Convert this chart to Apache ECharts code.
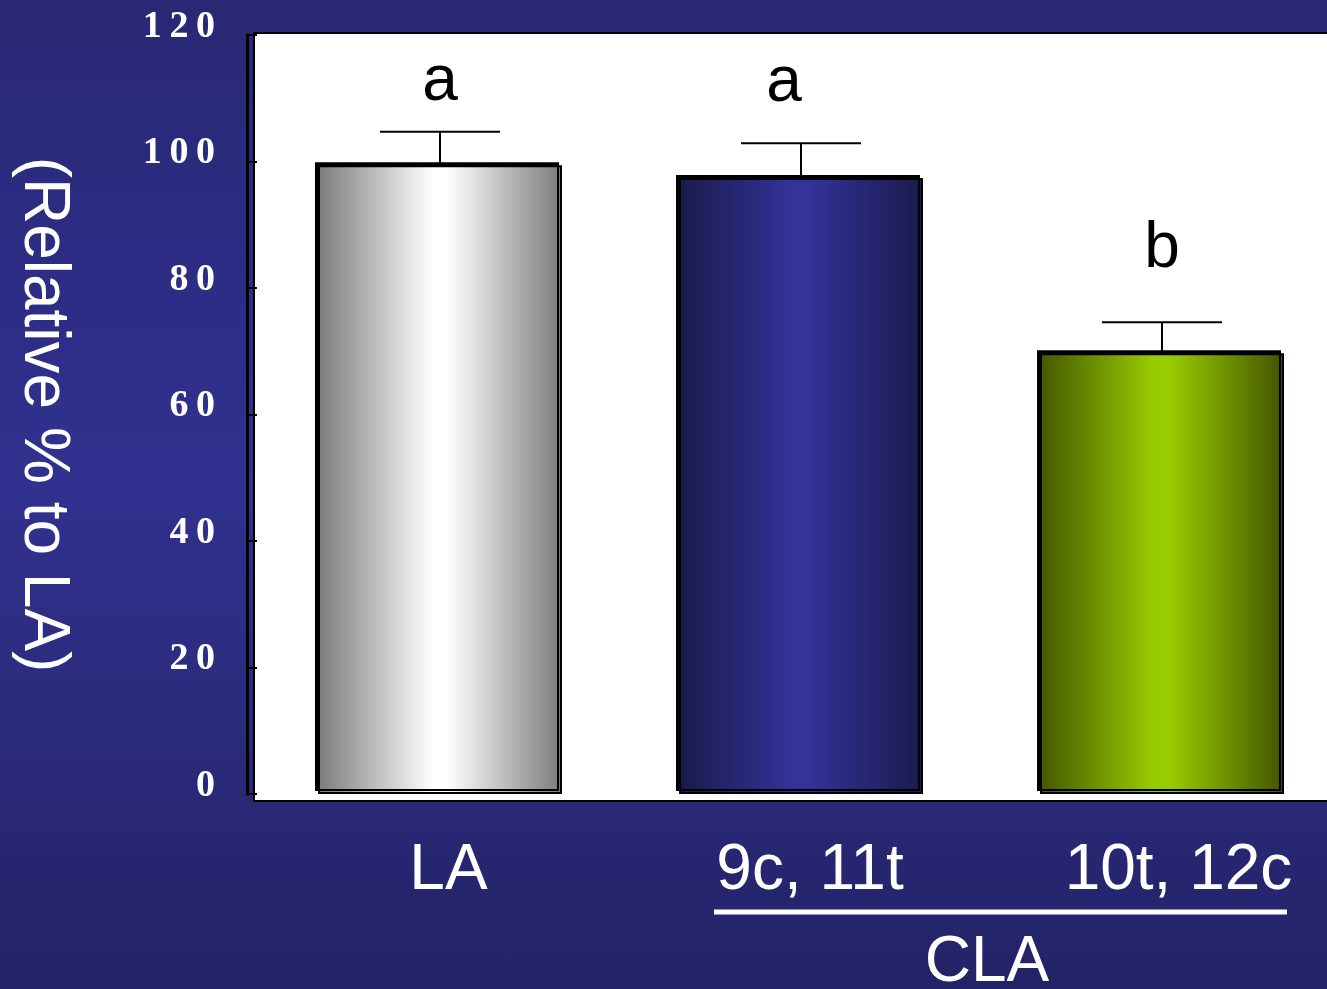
<!DOCTYPE html>
<html>
<head>
<meta charset="utf-8">
<title>Relative % to LA</title>
<script src="https://cdn.jsdelivr.net/npm/echarts@6/dist/echarts.min.js"></script>
<style>
  html, body { margin: 0; padding: 0; }
  body {
    width: 1327px; height: 989px; overflow: hidden;
    background: linear-gradient(to bottom, #282873 0%, #2e2e8a 35%, #31318f 50%, #2a2a7a 75%, #222366 100%);
  }
  /* the plot runs off the right edge, so the canvas is wider than the view */
  #chart { width: 1400px; height: 989px; }
</style>
</head>
<body>
<div id="chart"></div>
<script>
// Groups and measured values
const categories = ['LA', '9c, 11t', '10t, 12c'];
const meanValues = [99.4, 97.4, 69.7];
const semValues = [5.3, 5.5, 4.9];
const sigLetters = ['a', 'a', 'b'];
const groupLabel = 'CLA';
const yTitle = '(Relative % to LA)';

// Horizontal "cylinder" shading per bar
const barShades = [
  ['#7b7b7b', '#ffffff', '#7b7b7b'],
  ['#1a1a4c', '#333399', '#1a1a4c'],
  ['#455800', '#99cc00', '#435400']
];
// Letter placement relative to the error-bar cap (px)
const letterShift = [[0, 49], [-17, 60], [0, 73]];
// Extra left padding of the category labels (px)
const labelPad = [17, 18, 33];

function shade(c) {
  return {
    type: 'linear', x: 0, y: 0, x2: 1, y2: 0,
    colorStops: [
      { offset: 0, color: c[0] },
      { offset: 0.47, color: c[1] },
      { offset: 0.53, color: c[1] },
      { offset: 1, color: c[2] }
    ]
  };
}

const chart = echarts.init(document.getElementById('chart'), null, { renderer: 'canvas' });

const gridLeft = 259.5, gridWidth = 1083, gridTop = 35, gridBottomY = 794;

chart.setOption({
  backgroundColor: 'transparent',
  animation: false,
  grid: { left: gridLeft, width: gridWidth, top: gridTop, bottom: 989 - gridBottomY, containLabel: false },
  graphic: [
    {
      type: 'rect', z: -10, silent: true,
      shape: { x: 254, y: 33, width: 1200, height: 768 },
      style: { fill: '#ffffff', stroke: '#000000', lineWidth: 2 }
    },
    {
      type: 'line', z: 5, silent: true,
      shape: { x1: 714, y1: 912, x2: 1287, y2: 912 },
      style: { stroke: '#ffffff', lineWidth: 5 }
    },
    {
      type: 'text', z: 5, silent: true,
      x: 987, y: 931,
      style: {
        text: groupLabel, fill: '#ffffff', fontSize: 64,
        fontFamily: 'Liberation Sans, Arial, sans-serif', align: 'center', verticalAlign: 'top'
      }
    }
  ],
  xAxis: {
    type: 'category',
    data: categories.map((c, i) => ({ value: c, textStyle: { padding: [0, 0, 0, labelPad[i]] } })),
    axisLine: { show: false },
    axisTick: { show: false },
    splitLine: { show: false },
    axisLabel: {
      interval: 0, color: '#ffffff', fontSize: 64,
      fontFamily: 'Liberation Sans, Arial, sans-serif', margin: 45
    }
  },
  yAxis: {
    type: 'value', min: 0, max: 120, interval: 20,
    offset: gridLeft - 247,
    name: yTitle,
    nameLocation: 'middle',
    nameRotate: -90,
    nameGap: 172,
    nameTextStyle: { color: '#ffffff', fontSize: 64, fontFamily: 'Liberation Sans, Arial, sans-serif' },
    axisLine: { show: true, lineStyle: { color: '#000000', width: 3 } },
    axisTick: { show: true, inside: true, length: 10, lineStyle: { color: '#000000', width: 2 } },
    splitLine: { show: false },
    axisLabel: {
      color: '#ffffff', fontSize: 38, fontWeight: 'bold',
      fontFamily: 'Liberation Serif, Times New Roman, serif', margin: 32,
      verticalAlign: 'bottom', lineHeight: 16,
      formatter: v => String(v).split('').join('\u2009')
    }
  },
  series: [
    {
      type: 'bar',
      barWidth: 244,
      z: 2,
      data: meanValues.map((v, i) => ({
        value: v,
        itemStyle: {
          color: shade(barShades[i]),
          borderColor: '#000000', borderWidth: 2,
          shadowColor: '#000000', shadowBlur: 0, shadowOffsetX: -3, shadowOffsetY: -3
        }
      }))
    },
    {
      type: 'custom',
      z: 5,
      data: meanValues.map((v, i) => [i, v, v + semValues[i]]),
      renderItem: function (params, api) {
        const i = api.value(0);
        const base = api.coord([i, api.value(1)]);
        const top = api.coord([i, api.value(2)]);
        const half = 60;
        const sh = letterShift[i];
        return {
          type: 'group',
          children: [
            { type: 'line', shape: { x1: top[0], y1: base[1] - 1, x2: top[0], y2: top[1] },
              style: { stroke: '#000', lineWidth: 2 } },
            { type: 'line', shape: { x1: top[0] - half, y1: top[1], x2: top[0] + half, y2: top[1] },
              style: { stroke: '#000', lineWidth: 2 } },
            { type: 'text', x: top[0] + sh[0], y: top[1] - sh[1],
              style: { text: sigLetters[i], fill: '#000', fontSize: 64,
                       fontFamily: 'Liberation Sans, Arial, sans-serif',
                       align: 'center', verticalAlign: 'middle' } }
          ]
        };
      }
    }
  ]
});
</script>
</body>
</html>
